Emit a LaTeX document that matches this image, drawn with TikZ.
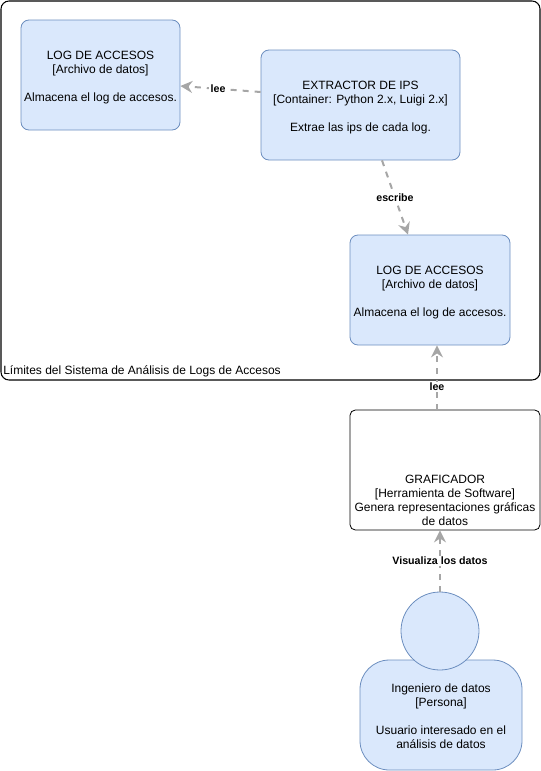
\documentclass[tikz,border=0pt]{standalone}
\usepackage{fontspec}
\setmainfont{Liberation Sans}
\usetikzlibrary{arrows.meta,calc}
\definecolor{boxfill}{HTML}{DAE8FC}
\definecolor{boxline}{HTML}{6C8EBF}
\definecolor{conn}{HTML}{A6A6A6}
\tikzset{
  container/.style={draw=boxline, fill=boxfill, rounded corners=6pt, line width=0.6pt, inner sep=0pt},
  tool/.style={draw=black, fill=white, rounded corners=4pt, line width=0.6pt, inner sep=0pt},
  txt/.style={align=center, font=\fontsize{9}{10.5}\selectfont, inner sep=0pt},
  conn/.style={draw=conn, line width=1.5pt, dash pattern=on 4.5pt off 4.5pt,
    -{Stealth[length=9pt,width=9pt,inset=3pt]}},
  elabel/.style={fill=white, font=\bfseries\fontsize{8}{9}\selectfont, inner sep=1pt, text=black}
}
\begin{document}
\begin{tikzpicture}[x=0.75pt,y=-0.75pt]
\useasboundingbox (0,0) rectangle (541,771);
% system boundary
\node[draw=black, line width=0.8pt, rounded corners=6pt, minimum width=539*0.75pt, minimum height=379*0.75pt, inner sep=0pt] (sys) at (270.5,190.5) {};
\node[txt, anchor=west] (syslabel) at (3,371) {Límites del Sistema de Análisis de Logs de Accesos};
% containers
\node[container, minimum width=159*0.75pt, minimum height=110*0.75pt] (log1) at (100.5,75) {};
\node[txt] (log1text) at (100.5,78) {LOG DE ACCESOS\\{}[Archivo de datos]\\ \\Almacena el log de accesos.};
\node[container, minimum width=199*0.75pt, minimum height=110*0.75pt] (ext) at (360.5,105) {};
\node[txt] (exttext) at (360.5,108) {EXTRACTOR DE IPS\\{}[Container: Python 2.x, Luigi 2.x]\\ \\Extrae las ips de cada log.};
\node[container, minimum width=160*0.75pt, minimum height=110*0.75pt] (log2) at (430,290) {};
\node[txt] (log2text) at (430,293) {LOG DE ACCESOS\\{}[Archivo de datos]\\ \\Almacena el log de accesos.};
% graficador
\node[tool, minimum width=190*0.75pt, minimum height=120*0.75pt] (graf) at (445,470) {};
\node[txt] (graftext) at (445,500.5) {GRAFICADOR\\{}[Herramienta de Software]\\Genera representaciones gráficas\\de datos};
% person
\node[draw=boxline, fill=boxfill, rounded corners=22pt, line width=0.6pt, minimum width=162*0.75pt, minimum height=110*0.75pt, inner sep=0pt] (body) at (441,715) {};
\node[draw=boxline, fill=boxfill, circle, line width=0.6pt, minimum size=78*0.75pt, inner sep=0pt] (head) at (440,631) {};
\node[txt] (bodytext) at (441,716) {Ingeniero de datos\\{}[Persona]\\ \\Usuario interesado en el\\análisis de datos};
% connectors
\draw[conn] ($(ext.west)+(0,-13)$) -- node[elabel, pos=0.53] (l1) {lee} ($(log1.east)+(0,11)$);
\draw[conn] ($(ext.south)+(21.5,0)$) -- node[elabel, pos=0.5] (l2) {escribe} ($(log2.north)+(-22,0)$);
\draw[conn] ($(graf.north)+(-8,0)$) -- node[elabel, pos=0.35] (l3) {lee} ($(log2.south)+(7,0)$);
\draw[conn] (head.north) -- node[elabel, pos=0.5] (l4) {Visualiza los datos} ($(graf.south)+(-5,0)$);
\end{tikzpicture}
\end{document}
